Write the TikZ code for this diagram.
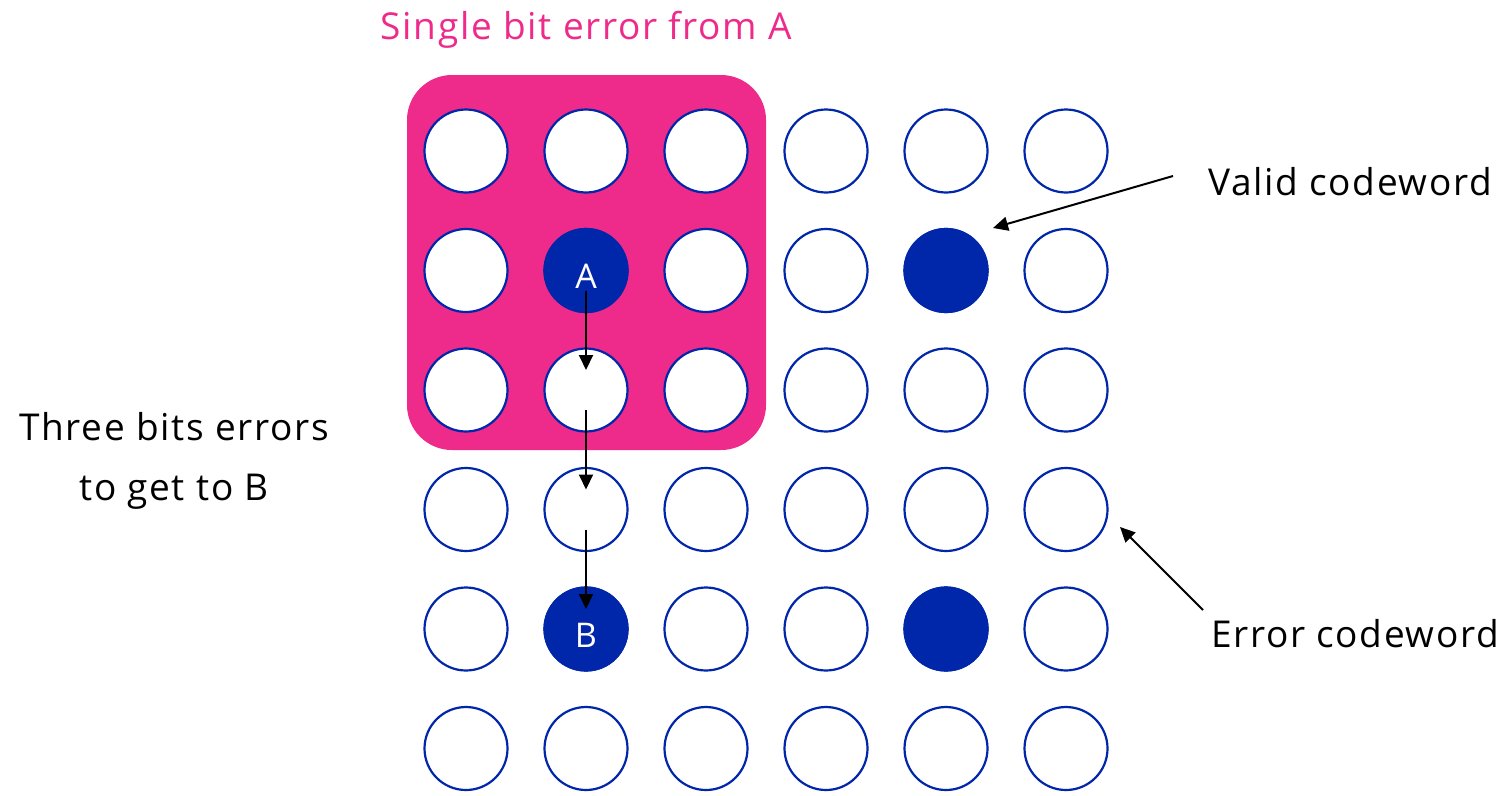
\documentclass[tikz,border=0pt]{standalone}
\usepackage{fontspec}
\setmainfont{Open Sans}[LetterSpace=4.5]
\usetikzlibrary{arrows.meta,calc}
\definecolor{cblue}{RGB}{0,38,170}
\definecolor{cpink}{RGB}{238,42,138}
\begin{document}
\begin{tikzpicture}[x=1pt,y=-1pt,
  cw/.style={circle,draw=cblue,line width=2.2pt,fill=white,minimum size=83pt,inner sep=0pt},
  cv/.style={cw,fill=cblue},
  lbl/.style={inner sep=0pt,font=\fontsize{37}{60}\selectfont},
  cl/.style={text=white,font=\fontsize{34}{40}\selectfont},
  arr/.style={line width=2pt,-{Triangle[length=15pt,width=14pt]}},
  chain/.style={arr,shorten <=20pt,shorten >=20pt}]
\useasboundingbox (0,0) rectangle (1506,795);
\fill[cpink,rounded corners=45pt] (407,75) rectangle (766,450);
\foreach \r/\y in {1/151,2/270.5,3/390,4/509.5,5/629,6/748.5}{
  \foreach \c/\x in {1/466,2/586,3/706,4/826,5/946,6/1066}{
    \node[cw] (c\r\c) at (\x,\y) {};
  }
}
\node[cv,cl] (A) at (c22) {\raisebox{-18pt}[0pt][0pt]{A}};
\node[cv,cl] (B) at (c52) {\raisebox{-18pt}[0pt][0pt]{B}};
\node[cv] (V1) at (c25) {};
\node[cv] (V2) at (c55) {};
\draw[chain] (A.center) -- (c32.center);
\draw[chain] (c32.center) -- (c42.center);
\draw[chain] (c42.center) -- (B.center);
\node[lbl,text=cpink,anchor=base] (single) at (586.5,39) {Single bit error from A};
\node[lbl,anchor=base west] (valid) at (1208,195) {Valid codeword};
\node[lbl,anchor=base west] (error) at (1211,647) {Error codeword};
\node[lbl,align=center,anchor=north] (three) at (174,412) {Three bits errors\\to get to B};
\coordinate (vs) at (1173,176);
\coordinate (vt) at (993,228);
\coordinate (es) at (1203,610);
\coordinate (et) at (1120,527);
\draw[arr] (vs) -- (vt);
\draw[arr] (es) -- (et);
\end{tikzpicture}
\end{document}
